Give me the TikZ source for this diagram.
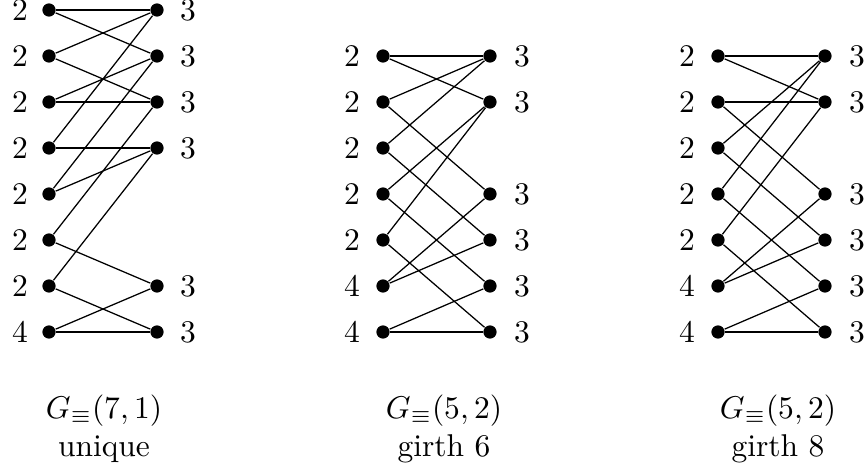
\documentclass[tikz,border=0pt]{standalone}
\begin{document}
\begin{tikzpicture}[x=0.3175pt,y=-0.3175pt,
  vtx/.style={circle,fill,inner sep=0pt,minimum size=4.2pt},
  lab/.style={inner sep=0pt},
  captext/.style={inner sep=0pt,anchor=base},
  edge/.style={line width=0.4pt}]
\useasboundingbox (0,0) rectangle (865,476);
% ---------- graph 1 ----------
\foreach \i/\d in {1/2,2/2,3/2,4/2,5/2,6/2,7/2,8/4}{
  \node[vtx] (a\i) at (49,{10+46*(\i-1)}) {};
  \node[lab] (al\i) at (20,{10+46*(\i-1)}) {$\d$};
}
\foreach \i in {1,2,3,4,7,8}{
  \node[vtx] (ar\i) at (157,{10+46*(\i-1)}) {};
  \node[lab] (arl\i) at (188,{10+46*(\i-1)}) {$3$};
}
\foreach \u/\v in {1/1,1/2,2/1,2/3,3/2,3/3,4/4,4/1,5/4,5/2,6/3,6/7,7/4,7/8,8/7,8/8}
  \draw[edge] (a\u) -- (ar\v);
\node[captext] (capa) at (104,418) {$G_{\equiv}(7,1)$};
\node[captext] (capa2) at (104,456) {unique};
% ---------- graph 2 ----------
\foreach \i/\d in {1/2,2/2,3/2,4/2,5/2,6/4,7/4}{
  \node[vtx] (b\i) at (383,{56+46*(\i-1)}) {};
  \node[lab] (bl\i) at (352,{56+46*(\i-1)}) {$\d$};
}
\foreach \i in {1,2,4,5,6,7}{
  \node[vtx] (br\i) at (490,{56+46*(\i-1)}) {};
  \node[lab] (brl\i) at (522,{56+46*(\i-1)}) {$3$};
}
\foreach \u/\v in {1/1,1/2,2/1,2/4,3/1,3/5,4/2,4/6,5/2,5/7,6/4,6/5,7/6,7/7}
  \draw[edge] (b\u) -- (br\v);
\node[captext] (capb) at (444,418) {$G_{\equiv}(5,2)$};
\node[captext] (capb2) at (444,456) {girth $6$};
% ---------- graph 3 ----------
\foreach \i/\d in {1/2,2/2,3/2,4/2,5/2,6/4,7/4}{
  \node[vtx] (c\i) at (718,{56+46*(\i-1)}) {};
  \node[lab] (cl\i) at (687,{56+46*(\i-1)}) {$\d$};
}
\foreach \i in {1,2,4,5,6,7}{
  \node[vtx] (cr\i) at (825,{56+46*(\i-1)}) {};
  \node[lab] (crl\i) at (857,{56+46*(\i-1)}) {$3$};
}
\foreach \u/\v in {1/1,1/2,2/2,2/4,3/1,3/5,4/1,4/6,5/2,5/7,6/4,6/5,7/6,7/7}
  \draw[edge] (c\u) -- (cr\v);
\node[captext] (capc) at (778,418) {$G_{\equiv}(5,2)$};
\node[captext] (capc2) at (778,456) {girth $8$};
\end{tikzpicture}
\end{document}
